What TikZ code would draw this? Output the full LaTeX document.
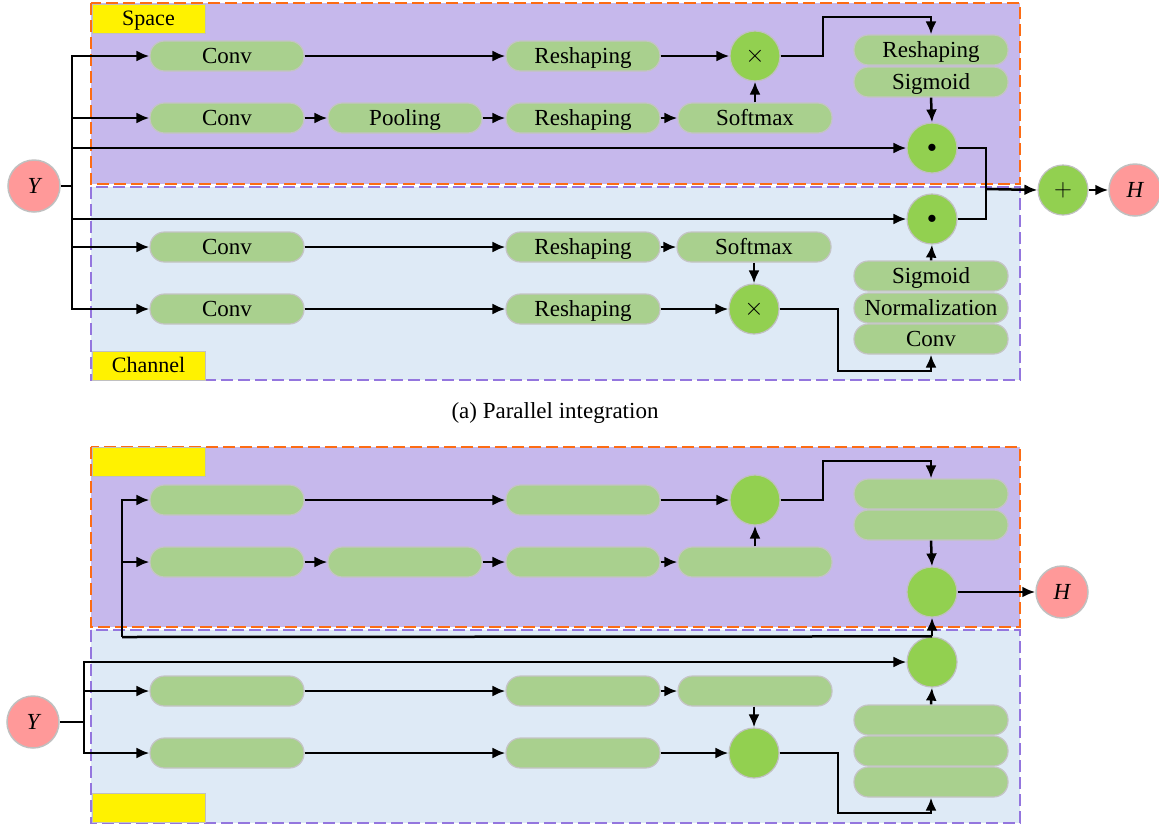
\documentclass[tikz,border=0pt]{standalone}
\usepackage{fontspec}
\setmainfont{Liberation Serif}
\usetikzlibrary{arrows.meta}
\definecolor{spacefill}{RGB}{198,184,236}
\definecolor{chanfill}{RGB}{222,234,246}
\definecolor{orangeb}{RGB}{252,108,20}
\definecolor{purpleb}{RGB}{148,118,222}
\definecolor{pillfill}{RGB}{169,208,142}
\definecolor{pillborder}{RGB}{196,196,196}
\definecolor{opfill}{RGB}{146,208,80}
\definecolor{iofill}{RGB}{255,153,153}
\definecolor{grayb}{RGB}{192,192,192}
\newcommand\myfs{\fontsize{23}{27}\selectfont}
\newcommand\tagfs{\fontsize{22}{26}\selectfont}
\tikzset{
  pill/.style={draw=pillborder, line width=1.2pt, fill=pillfill, rounded corners=14.5pt,
    minimum width=154pt, minimum height=30pt, inner sep=0pt, text height=17pt, text depth=3pt, font=\myfs},
  opc/.style={circle, draw=grayb, line width=1.2pt, fill=opfill, minimum size=50pt, inner sep=0pt, font=\myfs},
  io/.style={circle, draw=grayb, line width=1.5pt, fill=iofill, minimum size=52pt, inner sep=0pt, font=\myfs\itshape},
  conn/.style={line width=2.5pt, -{Latex[length=13pt,width=11pt]}},
  wire/.style={line width=2.5pt},
  spacebox/.style={fill=spacefill},
  chanbox/.style={fill=chanfill},
  spaceedge/.style={draw=orangeb, line width=2.9pt, dash pattern=on 12pt off 5pt},
  chanedge/.style={draw=purpleb, line width=2.9pt, dash pattern=on 12pt off 5pt},
  tag/.style={draw=grayb, line width=1pt, fill=yellow, minimum width=113pt, minimum height=29pt, inner sep=0pt, text height=16pt, text depth=3pt, font=\tagfs},
  captext/.style={font=\myfs}
}
\begin{document}
\begin{tikzpicture}[x=1pt,y=-1pt]
\useasboundingbox (0,0) rectangle (1159,828);
% ---------------- panel (a) ----------------
\fill[spacebox] (91,3) rectangle (1020,184);
\fill[chanbox] (91,187) rectangle (1020,380);
\draw[spaceedge] (91,3) rectangle (1020,184);
\draw[chanedge] (91,187) rectangle (1020,380);
\node[tag] (tagS) at (148.5,18.5) {Space};
\node[tag] (tagC) at (148.5,365.5) {Channel};

\node[io] (Y) at (34,186) {Y};
\coordinate (tr) at (72,186);

\node[pill] (c1) at (227,56) {Conv};
\node[pill] (r1) at (583,56) {Reshaping};
\node[opc] (x1) at (755,56) {$\times$};
\node[pill] (c2) at (227,118) {Conv};
\node[pill] (p2) at (405,118) {Pooling};
\node[pill] (r2) at (583,118) {Reshaping};
\node[pill] (s2) at (755,118) {Softmax};
\node[pill] (r5) at (931,50) {Reshaping};
\node[pill] (g5) at (931,82) {Sigmoid};
\node[opc] (d1) at (932,148) {\scalebox{0.75}{$\bullet$}};

\node[opc] (d2) at (932,219) {\scalebox{0.75}{$\bullet$}};
\node[pill] (c3) at (227,247) {Conv};
\node[pill] (r3) at (583,247) {Reshaping};
\node[pill] (s3) at (754,247) {Softmax};
\node[pill] (c4) at (227,309) {Conv};
\node[pill] (r4) at (583,309) {Reshaping};
\node[opc] (x2) at (754,309) {$\times$};
\node[pill] (g6) at (931,276) {Sigmoid};
\node[pill] (n6) at (931,308) {Normalization};
\node[pill] (v6) at (931,339) {Conv};

\node[opc] (plus) at (1063,190) {$+$};
\node[io] (H) at (1135,190) {H};

\draw[wire] (Y.east) -- (tr);
\draw[conn] (tr) |- (c1.west);
\draw[conn] (tr) |- (c2.west);
\draw[conn] (tr) |- (d1.west);
\draw[conn] (tr) |- (d2.west);
\draw[conn] (tr) |- (c3.west);
\draw[conn] (tr) |- (c4.west);

\draw[conn] (c1.east) -- (r1.west);
\draw[conn] (r1.east) -- (x1.west);
\draw[conn] (c2.east) -- (p2.west);
\draw[conn] (p2.east) -- (r2.west);
\draw[conn] (r2.east) -- (s2.west);
\draw[conn] (s2.north -| x1) -- (x1.south);
\coordinate (ka) at (823,17);
\draw[conn] (x1.east) -| (ka) -| (r5.north);
\draw[conn] (g5.south) -- (d1.north);
\coordinate (jn) at (986,189);
\draw[wire] (d1.east) -| (jn);
\draw[wire] (d2.east) -| (jn);
\draw[conn] (jn) -- (plus.west);
\draw[conn] (plus.east) -- (H.west);

\draw[conn] (c3.east) -- (r3.west);
\draw[conn] (r3.east) -- (s3.west);
\draw[conn] (s3.south) -- (x2.north);
\draw[conn] (c4.east) -- (r4.west);
\draw[conn] (r4.east) -- (x2.west);
\coordinate (kb) at (838,371);
\draw[conn] (x2.east) -| (kb) -| (v6.south);
\draw[conn] (g6.north) -- (d2.south);

\node[captext] (capa) at (555,413) {(a) Parallel integration};

% ---------------- panel (b) ----------------
\fill[spacebox] (91,447) rectangle (1020,627);
\fill[chanbox] (91,630) rectangle (1020,823);
\draw[spaceedge] (91,447) rectangle (1020,627);
\draw[chanedge] (91,630) rectangle (1020,823);
\node[tag] (tagS2) at (148.5,462) {};
\node[tag] (tagC2) at (148.5,808) {};

\node[pill] (bc1) at (227,500) {};
\node[pill] (br1) at (583,500) {};
\node[opc] (bx1) at (755,500) {};
\node[pill] (bc2) at (227,562) {};
\node[pill] (bp2) at (405,562) {};
\node[pill] (br2) at (583,562) {};
\node[pill] (bs2) at (755,562) {};
\node[pill] (br5) at (931,494) {};
\node[pill] (bg5) at (931,525) {};
\node[opc] (e1) at (932,592) {};
\node[io] (H2) at (1062,592) {H};

\node[io] (Y2) at (33,722) {Y};
\coordinate (tr2) at (84,722);
\node[opc] (e2) at (932,662) {};
\node[pill] (bc3) at (227,691) {};
\node[pill] (br3) at (583,691) {};
\node[pill] (bs3) at (755,691) {};
\node[pill] (bc4) at (227,753) {};
\node[pill] (br4) at (583,753) {};
\node[opc] (bx2) at (754,753) {};
\node[pill] (bg6) at (931,720) {};
\node[pill] (bn6) at (931,751) {};
\node[pill] (bv6) at (931,782) {};

\draw[wire] (Y2.east) -- (tr2);
\draw[conn] (tr2) |- (e2.west);
\draw[conn] (tr2) |- (bc3.west);
\draw[conn] (tr2) |- (bc4.west);
\draw[conn] (bc3.east) -- (br3.west);
\draw[conn] (br3.east) -- (bs3.west);
\draw[conn] (bs3.south -| bx2) -- (bx2.north);
\draw[conn] (bc4.east) -- (br4.west);
\draw[conn] (br4.east) -- (bx2.west);
\coordinate (kd) at (838,813);
\draw[conn] (bx2.east) -| (kd) -| (bv6.south);
\draw[conn] (bg6.north) -- (e2.south);

\coordinate (sq) at (122,637);
\draw[wire] (e2.north) -- (sq);
\draw[conn] (e2.north) -- (e1.south);
\draw[conn] (sq) |- (bc1.west);
\draw[conn] (sq) |- (bc2.west);

\draw[conn] (bc1.east) -- (br1.west);
\draw[conn] (br1.east) -- (bx1.west);
\draw[conn] (bc2.east) -- (bp2.west);
\draw[conn] (bp2.east) -- (br2.west);
\draw[conn] (br2.east) -- (bs2.west);
\draw[conn] (bs2.north -| bx1) -- (bx1.south);
\coordinate (kc) at (823,461);
\draw[conn] (bx1.east) -| (kc) -| (br5.north);
\draw[conn] (bg5.south) -- (e1.north);
\draw[conn] (e1.east) -- (H2.west);
\end{tikzpicture}
\end{document}
